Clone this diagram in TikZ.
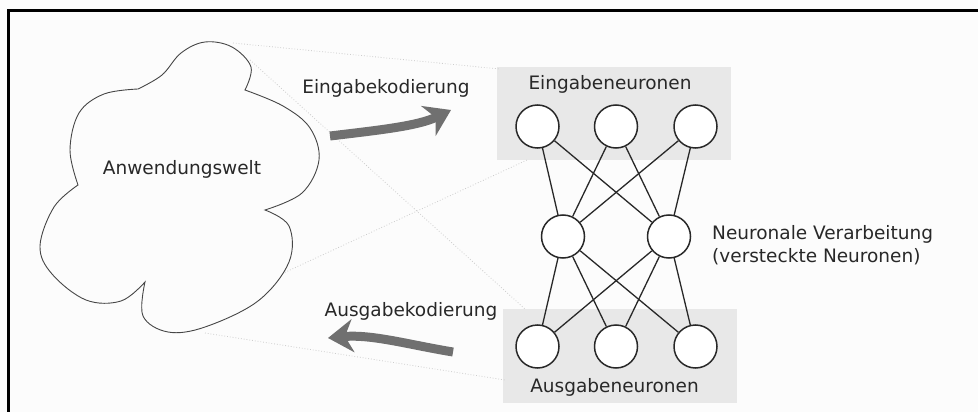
\documentclass[tikz,border=0pt]{standalone}
\usepackage{fontspec}
\setmainfont{DejaVu Sans}
\usetikzlibrary{arrows.meta}
\definecolor{ink}{RGB}{40,40,40}
\definecolor{outline}{RGB}{70,70,70}
\definecolor{paper}{RGB}{252,252,252}
\definecolor{layerbg}{RGB}{232,232,232}
\definecolor{flow}{RGB}{112,112,112}
\definecolor{guide}{RGB}{205,205,205}
\tikzset{
  label/.style={text=ink, inner sep=0pt, font=\fontsize{18.5pt}{23pt}\selectfont},
  neuron/.style={circle, draw=ink, line width=1.5pt, fill=white, minimum size=43pt, inner sep=0pt},
  synapse/.style={draw=ink, line width=1.3pt},
  layer/.style={fill=layerbg, draw=none},
  bigarrow/.style={draw=flow, line width=9pt, -{Stealth[length=25pt, width=33pt, inset=8pt]}},
  guideline/.style={draw=guide, line width=0.8pt, dotted},
}
\begin{document}
\begin{tikzpicture}[x=1pt, y=-1pt]
  \useasboundingbox (0,0) rectangle (978,412);
  \fill[paper] (0,0) rectangle (978,412);
  % frame (top and left edges)
  \draw[line width=2.6pt, black] (8.2,412) -- (8.2,10.5) -- (978,10.5);

  % layer backgrounds
  \fill[layer] (497,67) rectangle (731,160);
  \fill[layer] (503,309) rectangle (737,403);

  % faint guide lines from the world to the layers
  \coordinate (g1a) at (233,43);  \coordinate (g1b) at (500,69);
  \coordinate (g2a) at (250,60);  \coordinate (g2b) at (525,309);
  \coordinate (g3a) at (262,283); \coordinate (g3b) at (527,160);
  \coordinate (g4a) at (205,333); \coordinate (g4b) at (505,380);
  \draw[guideline] (g1a) -- (g1b);
  \draw[guideline] (g2a) -- (g2b);
  \draw[guideline] (g3a) -- (g3b);
  \draw[guideline] (g4a) -- (g4b);

  % cloud outline: five lobes joined at cusps
  \draw[outline, line width=0.9pt, fill=paper]
    plot[smooth, tension=0.6] coordinates {(138,89) (162,75) (181,53) (205,42) (232,47) (251,67) (245,90)}
    -- plot[smooth, tension=0.6] coordinates {(245,90) (283,106) (310,128) (319,160) (302,193) (265,210)}
    -- plot[smooth, tension=0.6] coordinates {(265,210) (289,226) (289,262) (258,301) (205,327) (168,332) (143,316) (145,282)}
    -- plot[smooth, tension=0.6] coordinates {(145,282) (121,301) (86,300) (52,274) (40,246) (54,207) (78,185)}
    -- plot[smooth, tension=0.6] coordinates {(78,185) (70,150) (79,113) (104,94) (138,89)}
    -- cycle;
  \node[label, anchor=base] (world) at (182,174) {Anwendungswelt};

  % coding arrows
  \coordinate (inTail) at (330,136);
  \coordinate (inTip) at (451,110);
  \draw[bigarrow] (inTail) .. controls (380,130) and (418,126) .. (inTip);
  \node[label, anchor=base] (incode) at (386,93) {Eingabekodierung};

  \coordinate (outTail) at (453,352);
  \coordinate (outTip) at (328,338);
  \draw[bigarrow] (outTail) .. controls (410,345) and (372,334) .. (outTip);
  \node[label, anchor=base] (outcode) at (411,316) {Ausgabekodierung};

  % neurons
  \node[neuron] (i1) at (537.5,126.5) {};
  \node[neuron] (i2) at (616,126.5) {};
  \node[neuron] (i3) at (695.5,126.5) {};
  \node[neuron] (h1) at (563,236.5) {};
  \node[neuron] (h2) at (669,236.5) {};
  \node[neuron] (o1) at (537.5,346.5) {};
  \node[neuron] (o2) at (616,346.5) {};
  \node[neuron] (o3) at (695.5,346.5) {};

  % full connections between adjacent layers
  \foreach \a in {i1,i2,i3} \foreach \b in {h1,h2} \draw[synapse] (\a) -- (\b);
  \foreach \a in {h1,h2} \foreach \b in {o1,o2,o3} \draw[synapse] (\a) -- (\b);

  % layer labels
  \node[label, anchor=base] (inlabel) at (610,90) {Eingabeneuronen};
  \node[label, anchor=base] (outlabel) at (614.5,392) {Ausgabeneuronen};
  \node[label, anchor=base west] (hidden1) at (712,239) {Neuronale Verarbeitung};
  \node[label, anchor=base west] (hidden2) at (712,262) {(versteckte Neuronen)};
\end{tikzpicture}
\end{document}
